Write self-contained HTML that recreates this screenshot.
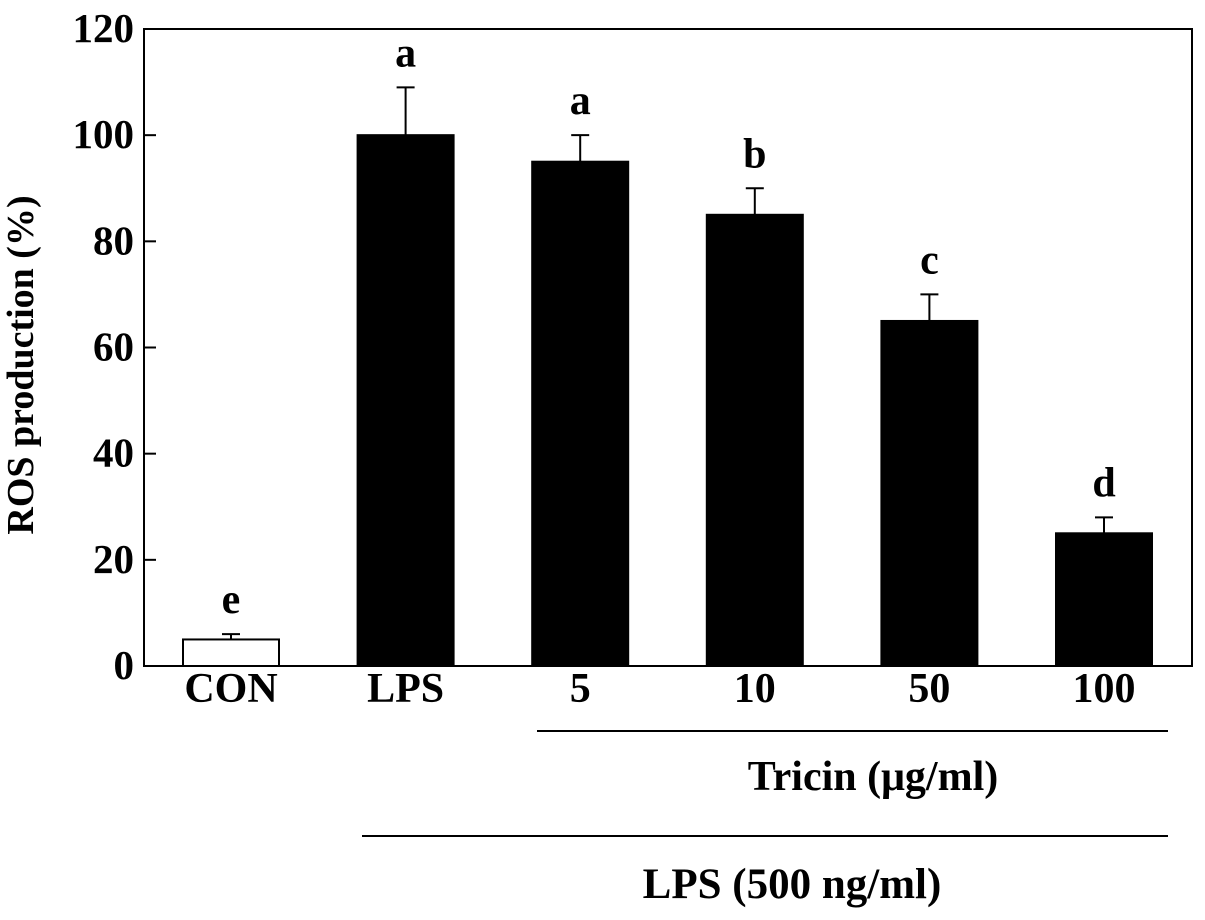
<!DOCTYPE html>
<html><head><meta charset="utf-8"><style>
body{margin:0;background:#fff}
svg text{font-family:"Liberation Serif",serif;font-weight:bold;fill:#000}
</style></head><body>
<svg width="1205" height="915" id="c">
<rect x="144" y="29" width="1048" height="637" fill="none" stroke="#000" stroke-width="2"/>
<text x="33" y="365" font-size="38" text-anchor="middle" transform="rotate(-90 33 365)">ROS production (%)</text>
<line x1="537" y1="731" x2="1168" y2="731" stroke="#000" stroke-width="2"/>
<text x="873" y="790" font-size="42" text-anchor="middle">Tricin (μg/ml)</text>
<line x1="362" y1="836" x2="1168" y2="836" stroke="#000" stroke-width="2"/>
<text x="792" y="898" font-size="43" text-anchor="middle">LPS (500 ng/ml)</text>
<g id="marks"></g>
</svg>
<script>
const categories=["CON","LPS","5","10","50","100"];
const values=[5,100,95,85,65,25];
const errors=[1,9,5,5,5,3];
const letters=["e","a","a","b","c","d"];
const ticks=[0,20,40,60,80,100,120];
const NS="http://www.w3.org/2000/svg";
const g=document.getElementById('marks');
const y=v=>666-v*637/120;
const xc=i=>231+i*174.6;
const bw=96;
function mk(t,a){const e=document.createElementNS(NS,t);for(const k in a)e.setAttribute(k,a[k]);g.appendChild(e);return e;}
ticks.forEach(t=>{
  if(t>0&&t<120){const l=mk('line',{x1:144,x2:156,y1:y(t),y2:y(t),stroke:'#000','stroke-width':2});
  
  }
  const tx=mk('text',{x:134,y:y(t)+13,'font-size':41,'text-anchor':'end'});tx.textContent=t;
  
  
});
categories.forEach((c,i)=>{
  const cx=xc(i),top=y(values[i]),et=y(values[i]+errors[i]);
  const el=mk('line',{x1:cx,x2:cx,y1:top,y2:et,stroke:'#000','stroke-width':2});
  
  
  const cap=mk('line',{x1:cx-9,x2:cx+9,y1:et,y2:et,stroke:'#000','stroke-width':2});
  
  
  const r=mk('rect',{x:cx-bw/2,y:top,width:bw,height:666-top,fill:i===0?'#fff':'#000',stroke:'#000','stroke-width':2});
  
  
  const lt=mk('text',{x:cx,y:et-21,'font-size':42,'text-anchor':'middle'});lt.textContent=letters[i];
  
  
  const xl=mk('text',{x:cx,y:702,'font-size':42,'text-anchor':'middle'});xl.textContent=c;
  
  
});
</script>
</body></html>
